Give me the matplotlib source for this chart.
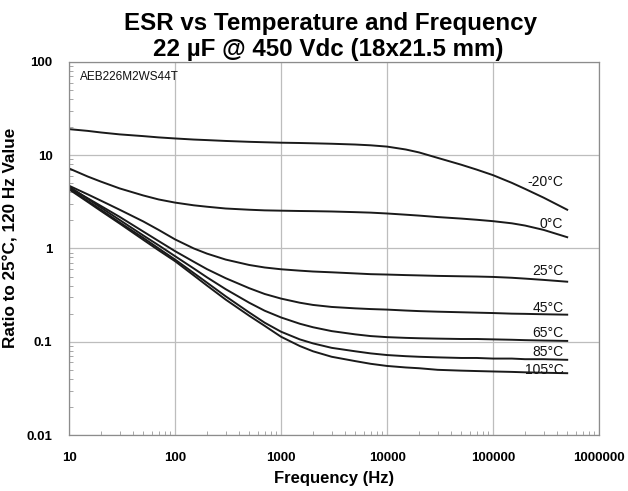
import matplotlib.pyplot as plt
from matplotlib.ticker import LogLocator, FixedLocator, FixedFormatter

plt.rcParams['font.family'] = ['Liberation Sans', 'DejaVu Sans']

# frequency points (Hz)
freq = [10, 15, 20, 30, 50, 70, 100, 150, 200, 300, 500, 700, 1000, 1500, 2000, 3000,
        5000, 7000, 10000, 15000, 20000, 30000, 50000, 70000, 100000, 150000, 200000,
        300000, 500000]

# ESR ratio curves per temperature
esr_m20 = [19, 18.2, 17.5, 16.7, 16.0, 15.5, 15.1, 14.7, 14.5, 14.2, 13.9, 13.75, 13.6, 13.5,
           13.4, 13.25, 13.0, 12.75, 12.35, 11.5, 10.7, 9.35, 7.9, 7.0, 6.1, 5.05, 4.35, 3.5, 2.6]
esr_0 = [7.2, 5.9, 5.2, 4.4, 3.7, 3.35, 3.1, 2.9, 2.8, 2.68, 2.6, 2.56, 2.54, 2.52, 2.51,
         2.49, 2.45, 2.42, 2.37, 2.3, 2.25, 2.17, 2.09, 2.03, 1.96, 1.86, 1.76, 1.58, 1.32]
esr_25 = [4.7, 3.8, 3.25, 2.6, 1.95, 1.58, 1.25, 1.0, 0.88, 0.76, 0.665, 0.625, 0.598, 0.578,
          0.566, 0.555, 0.54, 0.53, 0.525, 0.518, 0.514, 0.508, 0.503, 0.5, 0.495, 0.485,
          0.475, 0.46, 0.44]
esr_45 = [4.5, 3.45, 2.85, 2.18, 1.52, 1.2, 0.935, 0.72, 0.6, 0.48, 0.375, 0.325, 0.29,
          0.262, 0.248, 0.236, 0.228, 0.224, 0.221, 0.216, 0.213, 0.21, 0.207, 0.205, 0.203,
          0.2, 0.199, 0.197, 0.195]
esr_65 = [4.6, 3.4, 2.74, 2.02, 1.38, 1.08, 0.826, 0.61, 0.49, 0.366, 0.262, 0.215, 0.182,
          0.156, 0.143, 0.13, 0.12, 0.115, 0.112, 0.11, 0.109, 0.108, 0.107, 0.107, 0.106,
          0.105, 0.104, 0.103, 0.102]
esr_85 = [4.4, 3.23, 2.6, 1.9, 1.3, 1.0, 0.76, 0.545, 0.43, 0.307, 0.206, 0.16, 0.128,
          0.106, 0.096, 0.086, 0.079, 0.075, 0.072, 0.07, 0.069, 0.068, 0.067, 0.067, 0.066,
          0.066, 0.065, 0.065, 0.064]
esr_105 = [4.3, 3.15, 2.52, 1.85, 1.24, 0.955, 0.73, 0.514, 0.4, 0.283, 0.19, 0.148, 0.113,
           0.09, 0.079, 0.069, 0.062, 0.058, 0.055, 0.053, 0.052, 0.05, 0.049, 0.0485, 0.048,
           0.0475, 0.047, 0.0465, 0.046]

curves = [esr_m20, esr_0, esr_25, esr_45, esr_65, esr_85, esr_105]
labels = ['-20°C', '0°C', '25°C', '45°C', '65°C', '85°C', '105°C']
label_y = [5.1, 1.81, 0.58, 0.232, 0.125, 0.078, 0.050]

x_ticks = [10, 100, 1000, 10000, 100000, 1000000]
x_ticklabels = ['10', '100', '1000', '10000', '100000', '1000000']
y_ticks = [0.01, 0.1, 1, 10, 100]
y_ticklabels = ['0.01', '0.1', '1', '10', '100']

fig = plt.figure(figsize=(6.28, 4.91), dpi=100)
ax = fig.add_axes([0.110, 0.114, 0.844, 0.760])

for vals in curves:
    ax.plot(freq, vals, color='#1a1a1a', lw=1.4)

for lab, ly in zip(labels, label_y):
    ax.text(4.6e5, ly, lab, ha='right', va='center', fontsize=10, color='#111111')

ax.set_xscale('log')
ax.set_yscale('log')
ax.set_xlim(10, 1e6)
ax.set_ylim(0.01, 100)

ax.xaxis.set_major_locator(FixedLocator(x_ticks))
ax.xaxis.set_major_formatter(FixedFormatter(x_ticklabels))
ax.yaxis.set_major_locator(FixedLocator(y_ticks))
ax.yaxis.set_major_formatter(FixedFormatter(y_ticklabels))
ax.xaxis.set_minor_locator(LogLocator(base=10, subs=range(2, 10)))
ax.yaxis.set_minor_locator(LogLocator(base=10, subs=range(2, 10)))

ax.grid(True, which='major', color='#bdbdbd', lw=0.9)
ax.tick_params(which='major', length=0, pad=12, labelsize=9.5)
ax.tick_params(which='minor', direction='in', length=3, color='#999999', width=0.6)
ax.tick_params(axis='y', which='minor', left=True, right=False)
ax.tick_params(axis='x', which='minor', bottom=True, top=False)
for lbl in ax.get_xticklabels() + ax.get_yticklabels():
    lbl.set_fontweight('bold')
for sp in ax.spines.values():
    sp.set_color('#8c8c8c')
    sp.set_linewidth(0.9)

ax.set_xlabel('Frequency (Hz)', fontsize=12, fontweight='bold', labelpad=5)
ax.set_ylabel('Ratio to 25°C, 120 Hz Value', fontsize=12.3, fontweight='bold')
ax.yaxis.set_label_coords(-0.096, 0.528)

ax.text(0.02, 0.975, 'AEB226M2WS44T', transform=ax.transAxes, ha='left', va='top',
        fontsize=8.5, color='#111111')

fig.text(0.527, 0.952, 'ESR vs Temperature and Frequency', ha='center', va='center',
         fontsize=17.4, fontweight='bold')
fig.text(0.522, 0.899, '22 µF @ 450 Vdc (18x21.5 mm)', ha='center', va='center',
         fontsize=17.4, fontweight='bold')

fig.savefig('out.png', dpi=100)
